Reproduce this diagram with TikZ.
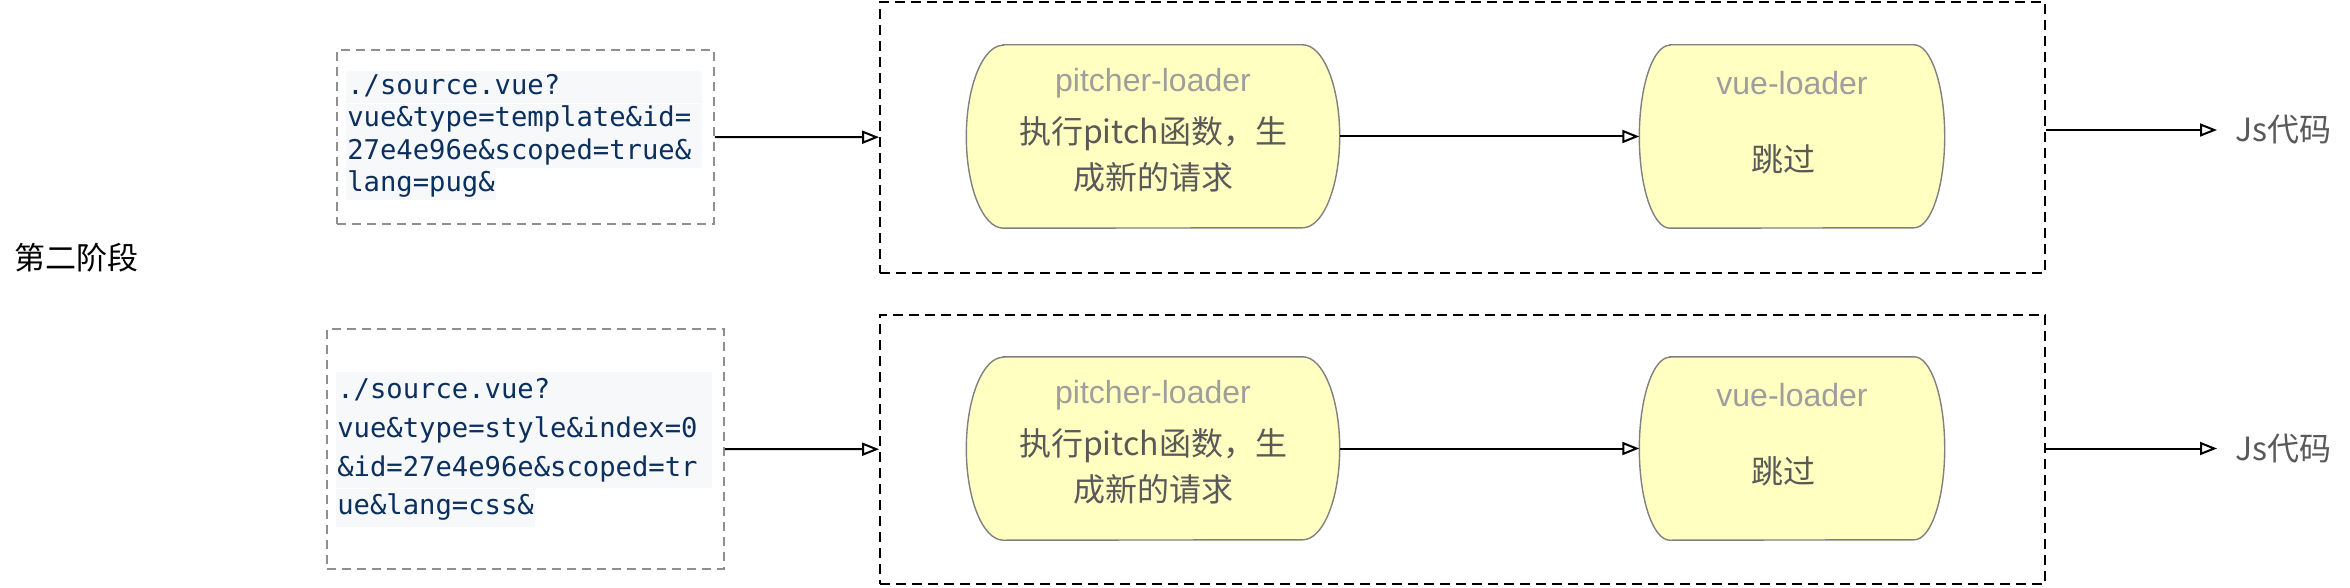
\documentclass[tikz,border=0pt]{standalone}
\usepackage{xcolor}
\usepackage{fontspec}
\setmainfont{Liberation Sans}
\setmonofont{DejaVu Sans Mono}
\newfontfamily\cjk{Noto Sans CJK SC}
\usepackage{tikz}
\usetikzlibrary{arrows.meta, positioning}

\definecolor{codeblue}{HTML}{0B2F5E}
\definecolor{codebg}{HTML}{F6F8FA}
\definecolor{loaderyellow}{HTML}{FFFFC2}
\definecolor{loaderline}{HTML}{808080}
\definecolor{titlegray}{HTML}{9E9E9E}
\definecolor{bodygray}{HTML}{595959}
\definecolor{boxgray}{HTML}{8F8F8F}

\tikzset{
  srcbox/.style={draw=boxgray, line width=1.8pt, dash pattern=on 9pt off 6pt, inner sep=0pt},
  codeline/.style={fill=codebg, text=codeblue, inner xsep=1pt, inner ysep=2pt, text height=21pt, text depth=7pt, align=left, font=\fontsize{27.2}{32}\selectfont\ttfamily},
  stagebox/.style={draw, line width=1.8pt, dash pattern=on 10pt off 6pt, inner sep=0pt},
  loader/.style={minimum height=183pt, inner sep=0pt},
  loaderedge/.style={draw=loaderline, fill=loaderyellow, line width=1.4pt},
  ttl/.style={text=titlegray, anchor=base, inner sep=0pt, font=\fontsize{32}{38}\selectfont},
  body/.style={text=bodygray, align=center, inner sep=0pt, font=\fontsize{32}{46}\selectfont\cjk},
  flow/.style={line width=2pt, -{Triangle[open, length=17pt, width=13pt]}},
}

\begin{document}
\begin{tikzpicture}[x=1pt, y=1pt]
    \useasboundingbox (0,0) rectangle (2350,-588);

    \node[font=\fontsize{31}{31}\selectfont\cjk, inner sep=0pt] (phase) at (76,-258) {第二阶段};

    % template request
    \node[srcbox, minimum width=377pt, minimum height=174pt] (s1) at (525.5,-137) {};
    \node[codeline, text width=354pt, anchor=north west] (a1) at ([xshift=10pt, yshift=-22pt]s1.north west) {./source.vue?};
    \node[codeline, text width=354pt, below=0pt of a1] (a2) {vue\&type=template\&id=};
    \node[codeline, text width=354pt, below=0pt of a2] (a3) {27e4e96e\&scoped=true\&};
    \node[codeline, anchor=north west] (a4) at (a3.south west) {lang=pug\&};

    % style request
    \node[srcbox, minimum width=397pt, minimum height=240pt] (s2) at (525.5,-449) {};
    \node[codeline, inner ysep=5.2pt, text width=374pt, anchor=north west] (b1) at ([xshift=10pt, yshift=-44pt]s2.north west) {./source.vue?};
    \node[codeline, inner ysep=5.2pt, text width=374pt, below=0pt of b1] (b2) {vue\&type=style\&index=0};
    \node[codeline, inner ysep=5.2pt, text width=374pt, below=0pt of b2] (b3) {\&id=27e4e96e\&scoped=tr};
    \node[codeline, inner ysep=5.2pt, anchor=north west] (b4) at (b3.south west) {ue\&lang=css\&};

    \node[stagebox, minimum width=1165pt, minimum height=271pt] (c1) at (1462.5,-137.5) {};
    \node[stagebox, minimum width=1165pt, minimum height=269pt] (c2) at (1462.5,-449.5) {};

    \node[loader, minimum width=373pt] (p1) at (1153,-136.5) {};
    \node[loader, minimum width=305pt] (v1) at (1792,-136.5) {};
    \node[loader, minimum width=373pt] (p2) at (1153,-448.5) {};
    \node[loader, minimum width=305pt] (v2) at (1792,-448.5) {};

    \foreach \n/\r in {p1/37, v1/30.5, p2/37, v2/30.5}
        \draw[loaderedge] ([xshift=\r pt]\n.north west) -- ([xshift=-\r pt]\n.north east)
            arc[start angle=90, end angle=-90, x radius=\r, y radius=91.5]
            -- ([xshift=\r pt]\n.south west)
            arc[start angle=270, end angle=90, x radius=\r, y radius=91.5] -- cycle;

    \node[ttl] (pt1) at ([yshift=-47pt]p1.north) {pitcher-loader};
    \node[body] (pb1) at ([yshift=-18pt]p1.center) {执行pitch函数，生\\成新的请求};
    \node[ttl] (vt1) at ([yshift=-50pt]v1.north) {vue-loader};
    \node[body] (vb1) at ([xshift=-9pt, yshift=-23pt]v1.center) {跳过};

    \node[ttl] (pt2) at ([yshift=-47pt]p2.north) {pitcher-loader};
    \node[body] (pb2) at ([yshift=-18pt]p2.center) {执行pitch函数，生\\成新的请求};
    \node[ttl] (vt2) at ([yshift=-50pt]v2.north) {vue-loader};
    \node[body] (vb2) at ([xshift=-9pt, yshift=-23pt]v2.center) {跳过};

    \node[body, inner xsep=18pt, anchor=west] (j1) at (2217,-130) {Js代码};
    \node[body, inner xsep=18pt, anchor=west] (j2) at (2217,-448.5) {Js代码};

    \path[flow]
    (s1) edge (c1)
    (p1) edge (v1)
    (c1.east |- j1) edge (j1)
    (s2) edge (c2)
    (p2) edge (v2)
    (c2.east |- j2) edge (j2);

\end{tikzpicture}
\end{document}
